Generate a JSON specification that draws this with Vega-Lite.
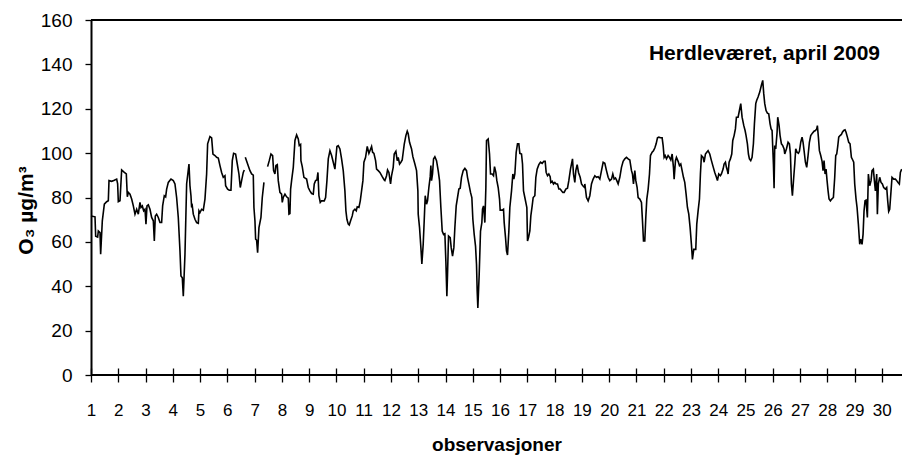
{
  "$schema": "https://vega.github.io/schema/vega-lite/v6.json",
  "autosize": "none",
  "padding": {"left": 91, "top": 20, "right": 0, "bottom": 80},
  "width": 811,
  "height": 355,
  "background": "white",
  "title": {"text": "Herdleværet, april 2009", "anchor": "end", "frame": "group", "orient": "top", "offset": -39, "dx": -22, "dy": 31, "fontSize": 21, "fontWeight": "bold", "font": "Liberation Sans", "color": "black", "baseline": "alphabetic"},
  "config": {"view": {"stroke": null}, "font": "Liberation Sans", "axis": {"labelFont": "Liberation Sans", "titleFont": "Liberation Sans", "labelColor": "black", "titleColor": "black", "grid": false}},
  "data": {"values": [
    {"t":1.000,"o3":71.7},{"t":1.147,"o3":71.3},{"t":1.171,"o3":62.6},{"t":1.244,"o3":62.2},{"t":1.269,"o3":64.9},{"t":1.330,"o3":64.2},{"t":1.354,"o3":54.4},{"t":1.415,"o3":69.5},{"t":1.489,"o3":77.0},{"t":1.574,"o3":78.1},{"t":1.635,"o3":78.5},{"t":1.660,"o3":87.6},{"t":1.758,"o3":87.3},{"t":1.855,"o3":87.8},{"t":1.941,"o3":88.3},{"t":1.977,"o3":86.1},{"t":2.002,"o3":78.1},{"t":2.063,"o3":78.5},{"t":2.124,"o3":92.4},{"t":2.222,"o3":91.3},{"t":2.295,"o3":90.6},{"t":2.332,"o3":80.3},{"t":2.368,"o3":82.3},{"t":2.430,"o3":81.5},{"t":2.491,"o3":79.3},{"t":2.552,"o3":76.2},{"t":2.613,"o3":72.5},{"t":2.674,"o3":74.7},{"t":2.735,"o3":72.5},{"t":2.796,"o3":77.8},{"t":2.833,"o3":75.5},{"t":2.882,"o3":76.2},{"t":2.931,"o3":74.0},{"t":2.980,"o3":74.7},{"t":3.016,"o3":68.0},{"t":3.053,"o3":76.2},{"t":3.102,"o3":76.7},{"t":3.163,"o3":74.7},{"t":3.224,"o3":71.0},{"t":3.285,"o3":69.5},{"t":3.322,"o3":60.4},{"t":3.358,"o3":71.7},{"t":3.407,"o3":72.5},{"t":3.468,"o3":71.0},{"t":3.529,"o3":68.7},{"t":3.590,"o3":68.7},{"t":3.627,"o3":76.2},{"t":3.688,"o3":80.8},{"t":3.737,"o3":80.3},{"t":3.774,"o3":83.8},{"t":3.835,"o3":86.8},{"t":3.933,"o3":88.3},{"t":4.018,"o3":87.6},{"t":4.079,"o3":86.1},{"t":4.140,"o3":80.0},{"t":4.201,"o3":71.0},{"t":4.263,"o3":55.9},{"t":4.299,"o3":44.6},{"t":4.348,"o3":43.8},{"t":4.385,"o3":35.5},
    {"t":4.446,"o3":54.4},{"t":4.507,"o3":86.1},{"t":4.593,"o3":95.1},{"t":4.629,"o3":85.3},{"t":4.666,"o3":80.8},{"t":4.690,"o3":75.5},{"t":4.715,"o3":76.2},{"t":4.751,"o3":72.5},{"t":4.813,"o3":70.2},{"t":4.874,"o3":68.7},{"t":4.935,"o3":68.4},{"t":4.959,"o3":74.0},{"t":4.996,"o3":73.2},{"t":5.057,"o3":74.7},{"t":5.118,"o3":74.3},{"t":5.179,"o3":79.3},{"t":5.240,"o3":90.6},{"t":5.277,"o3":104.2},{"t":5.362,"o3":107.5},{"t":5.424,"o3":106.9},{"t":5.472,"o3":99.6},{"t":5.546,"o3":98.9},{"t":5.607,"o3":98.1},{"t":5.668,"o3":97.8},{"t":5.729,"o3":94.4},{"t":5.790,"o3":91.3},{"t":5.851,"o3":89.1},{"t":5.912,"o3":89.8},{"t":5.937,"o3":85.3},{"t":6.010,"o3":83.8},{"t":6.071,"o3":83.3},{"t":6.132,"o3":83.3},{"t":6.181,"o3":96.6},{"t":6.230,"o3":99.9},{"t":6.303,"o3":99.6},{"t":6.364,"o3":95.1},{"t":6.425,"o3":90.6},{"t":6.474,"o3":84.5},{"t":6.523,"o3":87.6},{"t":6.584,"o3":91.3},{"t":6.621,"o3":92.4},{"t":6.640,"o3":null},{"t":6.658,"o3":98.1},{"t":6.829,"o3":92.1},{"t":6.890,"o3":90.6},{"t":6.951,"o3":90.1},{"t":6.975,"o3":75.5},{"t":7.012,"o3":69.5},{"t":7.037,"o3":61.2},{"t":7.073,"o3":60.8},{"t":7.110,"o3":55.1},{"t":7.159,"o3":66.4},{"t":7.232,"o3":71.0},{"t":7.281,"o3":80.0},{"t":7.342,"o3":86.8},{"t":7.410,"o3":null},{"t":7.476,"o3":93.9},{"t":7.537,"o3":96.6},{"t":7.599,"o3":99.6},{"t":7.660,"o3":98.9},{"t":7.696,"o3":92.1},{"t":7.745,"o3":90.6},{"t":7.782,"o3":94.4},{"t":7.831,"o3":94.8},{"t":7.867,"o3":87.6},{"t":7.928,"o3":82.3},{"t":7.989,"o3":81.5},{"t":8.014,"o3":77.8},{"t":8.050,"o3":80.0},
    {"t":8.112,"o3":81.5},{"t":8.173,"o3":80.3},{"t":8.234,"o3":79.7},{"t":8.259,"o3":72.5},{"t":8.295,"o3":72.8},{"t":8.320,"o3":83.8},{"t":8.356,"o3":87.6},{"t":8.418,"o3":93.6},{"t":8.479,"o3":105.7},{"t":8.540,"o3":108.2},{"t":8.601,"o3":106.4},{"t":8.637,"o3":103.4},{"t":8.686,"o3":103.9},{"t":8.698,"o3":96.6},{"t":8.747,"o3":93.9},{"t":8.808,"o3":89.1},{"t":8.906,"o3":88.3},{"t":8.967,"o3":84.5},{"t":9.028,"o3":83.0},{"t":9.090,"o3":81.8},{"t":9.151,"o3":81.5},{"t":9.187,"o3":86.1},{"t":9.236,"o3":87.6},{"t":9.285,"o3":87.9},{"t":9.322,"o3":91.3},{"t":9.358,"o3":80.8},{"t":9.407,"o3":77.8},{"t":9.456,"o3":78.5},{"t":9.554,"o3":78.5},{"t":9.603,"o3":80.0},{"t":9.652,"o3":87.6},{"t":9.701,"o3":97.4},{"t":9.762,"o3":101.1},{"t":9.823,"o3":98.9},{"t":9.884,"o3":95.9},{"t":9.945,"o3":92.8},{"t":9.982,"o3":98.1},{"t":10.018,"o3":103.0},{"t":10.067,"o3":103.4},{"t":10.128,"o3":101.9},{"t":10.189,"o3":97.4},{"t":10.250,"o3":92.1},{"t":10.311,"o3":83.0},{"t":10.348,"o3":74.0},{"t":10.385,"o3":70.2},{"t":10.434,"o3":68.0},{"t":10.470,"o3":67.6},{"t":10.519,"o3":69.5},{"t":10.580,"o3":71.7},{"t":10.617,"o3":74.0},{"t":10.678,"o3":74.7},{"t":10.727,"o3":74.0},{"t":10.763,"o3":75.8},{"t":10.825,"o3":75.5},{"t":10.874,"o3":78.5},{"t":10.922,"o3":83.0},{"t":10.971,"o3":87.6},{"t":11.008,"o3":95.9},{"t":11.069,"o3":98.1},{"t":11.130,"o3":103.0},{"t":11.191,"o3":99.9},{"t":11.240,"o3":101.4},{"t":11.289,"o3":103.0},{"t":11.326,"o3":100.4},{"t":11.375,"o3":99.9},{"t":11.436,"o3":96.6},{"t":11.472,"o3":92.8},{"t":11.533,"o3":92.1},{"t":11.594,"o3":91.3},{"t":11.680,"o3":89.4},{"t":11.753,"o3":87.9},
    {"t":11.777,"o3":87.6},{"t":11.838,"o3":89.8},{"t":11.875,"o3":92.4},{"t":11.924,"o3":91.3},{"t":11.985,"o3":86.1},{"t":12.021,"o3":89.8},{"t":12.082,"o3":93.6},{"t":12.119,"o3":99.6},{"t":12.180,"o3":100.8},{"t":12.229,"o3":96.6},{"t":12.266,"o3":98.1},{"t":12.315,"o3":95.1},{"t":12.364,"o3":95.9},{"t":12.412,"o3":96.9},{"t":12.449,"o3":100.4},{"t":12.486,"o3":103.9},{"t":12.547,"o3":107.9},{"t":12.596,"o3":109.9},{"t":12.632,"o3":108.7},{"t":12.681,"o3":104.9},{"t":12.755,"o3":101.9},{"t":12.803,"o3":98.4},{"t":12.877,"o3":95.1},{"t":12.938,"o3":92.1},{"t":12.987,"o3":83.0},{"t":12.999,"o3":72.5},{"t":13.048,"o3":66.4},{"t":13.097,"o3":57.4},{"t":13.133,"o3":50.1},{"t":13.182,"o3":58.9},{"t":13.219,"o3":69.5},{"t":13.256,"o3":80.8},{"t":13.304,"o3":77.0},{"t":13.341,"o3":78.5},{"t":13.390,"o3":84.5},{"t":13.439,"o3":89.4},{"t":13.463,"o3":94.4},{"t":13.488,"o3":87.6},{"t":13.524,"o3":90.6},{"t":13.561,"o3":97.4},{"t":13.610,"o3":98.4},{"t":13.671,"o3":96.6},{"t":13.732,"o3":92.1},{"t":13.781,"o3":87.6},{"t":13.830,"o3":75.5},{"t":13.879,"o3":64.9},{"t":13.928,"o3":63.4},{"t":13.977,"o3":63.7},{"t":14.013,"o3":51.3},{"t":14.050,"o3":35.5},{"t":14.074,"o3":45.3},{"t":14.111,"o3":62.6},{"t":14.172,"o3":61.9},{"t":14.209,"o3":57.4},{"t":14.258,"o3":53.6},{"t":14.306,"o3":57.4},{"t":14.343,"o3":66.4},{"t":14.392,"o3":76.2},{"t":14.441,"o3":80.0},{"t":14.490,"o3":83.8},{"t":14.539,"o3":84.2},{"t":14.587,"o3":89.1},{"t":14.649,"o3":92.1},{"t":14.710,"o3":93.1},{"t":14.771,"o3":92.1},{"t":14.807,"o3":89.1},{"t":14.856,"o3":86.1},{"t":14.917,"o3":82.3},{"t":14.966,"o3":80.0},{"t":15.003,"o3":70.2},{"t":15.052,"o3":63.4},{"t":15.101,"o3":58.1},{"t":15.137,"o3":49.8},{"t":15.162,"o3":37.8},{"t":15.186,"o3":30.2},{"t":15.235,"o3":45.3},{"t":15.284,"o3":64.9},{"t":15.333,"o3":68.7},{"t":15.357,"o3":74.7},{"t":15.394,"o3":76.2},
    {"t":15.443,"o3":68.7},{"t":15.480,"o3":84.5},{"t":15.504,"o3":105.7},{"t":15.565,"o3":106.4},{"t":15.614,"o3":99.6},{"t":15.651,"o3":90.6},{"t":15.712,"o3":90.6},{"t":15.761,"o3":89.8},{"t":15.797,"o3":93.9},{"t":15.846,"o3":91.3},{"t":15.883,"o3":87.6},{"t":15.932,"o3":84.5},{"t":15.981,"o3":79.3},{"t":16.005,"o3":74.3},{"t":16.078,"o3":74.3},{"t":16.127,"o3":74.7},{"t":16.152,"o3":68.7},{"t":16.201,"o3":61.9},{"t":16.237,"o3":55.9},{"t":16.274,"o3":54.1},{"t":16.323,"o3":64.9},{"t":16.359,"o3":75.5},{"t":16.421,"o3":83.0},{"t":16.469,"o3":90.6},{"t":16.506,"o3":88.3},{"t":16.543,"o3":90.6},{"t":16.592,"o3":100.4},{"t":16.640,"o3":104.2},{"t":16.689,"o3":104.2},{"t":16.726,"o3":99.9},{"t":16.787,"o3":99.6},{"t":16.824,"o3":95.1},{"t":16.860,"o3":83.0},{"t":16.909,"o3":80.0},{"t":16.958,"o3":77.0},{"t":16.983,"o3":75.5},{"t":17.007,"o3":60.4},{"t":17.044,"o3":61.9},{"t":17.093,"o3":64.9},{"t":17.129,"o3":71.7},{"t":17.178,"o3":76.2},{"t":17.215,"o3":80.0},{"t":17.276,"o3":80.8},{"t":17.313,"o3":89.1},{"t":17.361,"o3":92.8},{"t":17.422,"o3":94.8},{"t":17.484,"o3":95.9},{"t":17.545,"o3":95.4},{"t":17.606,"o3":96.3},{"t":17.655,"o3":96.3},{"t":17.691,"o3":91.3},{"t":17.740,"o3":89.8},{"t":17.789,"o3":90.6},{"t":17.838,"o3":89.4},{"t":17.862,"o3":86.8},{"t":17.911,"o3":87.3},{"t":17.960,"o3":86.1},{"t":18.009,"o3":86.8},{"t":18.058,"o3":86.1},{"t":18.107,"o3":86.1},{"t":18.156,"o3":83.8},{"t":18.205,"o3":83.8},{"t":18.253,"o3":83.0},{"t":18.302,"o3":82.3},{"t":18.351,"o3":82.3},{"t":18.412,"o3":83.8},{"t":18.473,"o3":84.2},{"t":18.522,"o3":87.6},{"t":18.583,"o3":92.8},{"t":18.657,"o3":97.4},{"t":18.693,"o3":90.6},{"t":18.742,"o3":86.8},{"t":18.779,"o3":92.1},{"t":18.828,"o3":94.8},{"t":18.877,"o3":91.3},{"t":18.938,"o3":89.1},{"t":18.987,"o3":86.1},{"t":19.036,"o3":85.3},{"t":19.097,"o3":84.5},
    {"t":19.109,"o3":86.1},{"t":19.170,"o3":80.0},{"t":19.231,"o3":78.5},{"t":19.292,"o3":80.8},{"t":19.353,"o3":86.1},{"t":19.414,"o3":88.3},{"t":19.476,"o3":89.8},{"t":19.537,"o3":89.1},{"t":19.598,"o3":89.4},{"t":19.659,"o3":88.3},{"t":19.720,"o3":92.1},{"t":19.781,"o3":95.9},{"t":19.842,"o3":95.4},{"t":19.903,"o3":92.1},{"t":19.964,"o3":89.1},{"t":20.025,"o3":87.6},{"t":20.087,"o3":88.3},{"t":20.135,"o3":90.6},{"t":20.184,"o3":88.3},{"t":20.233,"o3":88.8},{"t":20.282,"o3":87.6},{"t":20.331,"o3":86.1},{"t":20.392,"o3":89.1},{"t":20.453,"o3":93.6},{"t":20.514,"o3":96.3},{"t":20.575,"o3":97.4},{"t":20.636,"o3":98.1},{"t":20.697,"o3":97.4},{"t":20.759,"o3":96.9},{"t":20.820,"o3":92.1},{"t":20.856,"o3":90.6},{"t":20.893,"o3":86.1},{"t":20.942,"o3":92.1},{"t":20.979,"o3":87.6},{"t":21.027,"o3":84.5},{"t":21.064,"o3":80.0},{"t":21.125,"o3":79.3},{"t":21.186,"o3":77.8},{"t":21.223,"o3":69.5},{"t":21.260,"o3":60.4},{"t":21.308,"o3":60.4},{"t":21.345,"o3":71.0},{"t":21.382,"o3":79.3},{"t":21.431,"o3":83.8},{"t":21.480,"o3":90.6},{"t":21.516,"o3":98.9},{"t":21.577,"o3":100.4},{"t":21.626,"o3":101.1},{"t":21.675,"o3":102.3},{"t":21.724,"o3":104.2},{"t":21.773,"o3":106.9},{"t":21.822,"o3":107.2},{"t":21.883,"o3":106.9},{"t":21.944,"o3":106.9},{"t":21.981,"o3":103.4},{"t":22.017,"o3":98.1},{"t":22.054,"o3":98.9},{"t":22.103,"o3":97.4},{"t":22.164,"o3":98.9},{"t":22.213,"o3":98.1},{"t":22.262,"o3":96.9},{"t":22.311,"o3":99.6},{"t":22.359,"o3":93.6},{"t":22.384,"o3":88.3},{"t":22.433,"o3":96.6},{"t":22.469,"o3":98.1},{"t":22.530,"o3":96.3},{"t":22.579,"o3":94.4},{"t":22.628,"o3":95.1},{"t":22.677,"o3":92.1},{"t":22.726,"o3":89.1},
    {"t":22.774,"o3":86.8},{"t":22.823,"o3":81.5},{"t":22.872,"o3":75.5},{"t":22.921,"o3":72.5},{"t":22.970,"o3":66.4},{"t":23.018,"o3":58.9},{"t":23.055,"o3":52.1},{"t":23.104,"o3":56.6},{"t":23.177,"o3":56.6},{"t":23.214,"o3":68.0},{"t":23.263,"o3":74.0},{"t":23.312,"o3":79.3},{"t":23.348,"o3":90.6},{"t":23.385,"o3":98.9},{"t":23.446,"o3":98.1},{"t":23.483,"o3":95.9},{"t":23.532,"o3":99.6},{"t":23.581,"o3":100.4},{"t":23.629,"o3":101.1},{"t":23.690,"o3":99.6},{"t":23.752,"o3":96.6},{"t":23.813,"o3":93.9},{"t":23.874,"o3":91.3},{"t":23.935,"o3":89.1},{"t":23.972,"o3":87.6},{"t":24.020,"o3":90.6},{"t":24.081,"o3":89.8},{"t":24.118,"o3":90.6},{"t":24.179,"o3":92.8},{"t":24.216,"o3":95.1},{"t":24.265,"o3":95.9},{"t":24.301,"o3":93.6},{"t":24.338,"o3":92.1},{"t":24.363,"o3":90.6},{"t":24.399,"o3":95.9},{"t":24.448,"o3":97.4},{"t":24.497,"o3":99.6},{"t":24.534,"o3":105.7},{"t":24.583,"o3":107.9},{"t":24.631,"o3":110.9},{"t":24.668,"o3":116.2},{"t":24.729,"o3":116.2},{"t":24.778,"o3":119.2},{"t":24.827,"o3":122.3},{"t":24.876,"o3":116.2},{"t":24.937,"o3":112.5},{"t":24.986,"o3":110.2},{"t":25.022,"o3":107.9},{"t":25.071,"o3":104.2},{"t":25.108,"o3":99.6},{"t":25.145,"o3":97.4},{"t":25.193,"o3":96.6},{"t":25.242,"o3":98.1},{"t":25.291,"o3":104.2},{"t":25.328,"o3":113.2},{"t":25.377,"o3":122.3},{"t":25.413,"o3":123.8},{"t":25.462,"o3":125.3},{"t":25.523,"o3":127.5},{"t":25.584,"o3":130.6},{"t":25.633,"o3":132.8},{"t":25.670,"o3":126.8},{"t":25.707,"o3":122.3},{"t":25.755,"o3":119.2},{"t":25.804,"o3":118.0},{"t":25.853,"o3":117.7},{"t":25.902,"o3":113.2},{"t":25.939,"o3":110.9},{"t":25.976,"o3":110.2},{"t":26.000,"o3":102.6},{"t":26.025,"o3":95.1},{"t":26.049,"o3":84.2},{"t":26.073,"o3":103.4},{"t":26.110,"o3":101.9},{"t":26.159,"o3":109.4},{"t":26.183,"o3":116.2},{"t":26.232,"o3":112.5},{"t":26.269,"o3":107.9},{"t":26.318,"o3":104.2},{"t":26.367,"o3":103.4},{"t":26.416,"o3":101.9},
    {"t":26.440,"o3":99.6},{"t":26.501,"o3":101.9},{"t":26.562,"o3":104.9},{"t":26.611,"o3":104.2},{"t":26.648,"o3":99.6},{"t":26.684,"o3":86.1},{"t":26.721,"o3":80.8},{"t":26.770,"o3":89.1},{"t":26.807,"o3":95.1},{"t":26.843,"o3":101.9},{"t":26.892,"o3":100.4},{"t":26.941,"o3":99.9},{"t":26.978,"o3":100.8},{"t":27.027,"o3":104.9},{"t":27.075,"o3":107.2},{"t":27.112,"o3":104.9},{"t":27.149,"o3":101.1},{"t":27.198,"o3":95.9},{"t":27.246,"o3":93.6},{"t":27.295,"o3":98.9},{"t":27.344,"o3":104.9},{"t":27.393,"o3":107.9},{"t":27.454,"o3":109.0},{"t":27.515,"o3":109.9},{"t":27.564,"o3":110.2},{"t":27.613,"o3":110.9},{"t":27.637,"o3":112.4},{"t":27.674,"o3":107.2},{"t":27.711,"o3":101.1},{"t":27.760,"o3":98.9},{"t":27.809,"o3":96.3},{"t":27.845,"o3":92.1},{"t":27.882,"o3":96.6},{"t":27.919,"o3":90.6},{"t":27.955,"o3":92.8},{"t":27.992,"o3":87.6},{"t":28.029,"o3":83.0},{"t":28.065,"o3":79.3},{"t":28.114,"o3":78.5},{"t":28.163,"o3":79.3},{"t":28.224,"o3":80.0},{"t":28.273,"o3":89.1},{"t":28.310,"o3":98.9},{"t":28.346,"o3":99.6},{"t":28.383,"o3":103.0},{"t":28.420,"o3":107.2},{"t":28.468,"o3":107.9},{"t":28.517,"o3":108.4},{"t":28.554,"o3":109.4},{"t":28.603,"o3":110.2},{"t":28.652,"o3":110.5},{"t":28.688,"o3":109.4},{"t":28.737,"o3":107.2},{"t":28.786,"o3":104.9},{"t":28.835,"o3":104.2},{"t":28.884,"o3":98.1},{"t":28.933,"o3":96.9},{"t":28.969,"o3":95.9},{"t":29.006,"o3":86.1},{"t":29.055,"o3":79.3},{"t":29.092,"o3":75.5},{"t":29.140,"o3":68.0},{"t":29.189,"o3":58.9},{"t":29.226,"o3":61.2},{"t":29.275,"o3":58.9},{"t":29.312,"o3":63.4},{"t":29.348,"o3":74.0},{"t":29.385,"o3":78.5},{"t":29.422,"o3":78.8},{"t":29.470,"o3":71.0},{"t":29.507,"o3":90.6},{"t":29.556,"o3":85.3},{"t":29.605,"o3":87.6},{"t":29.641,"o3":92.1},{"t":29.690,"o3":92.8},{"t":29.727,"o3":87.6},{"t":29.764,"o3":83.0},{"t":29.812,"o3":90.6},{"t":29.837,"o3":72.5},{"t":29.873,"o3":86.1},{"t":29.922,"o3":89.1},{"t":29.971,"o3":86.8},{"t":30.020,"o3":86.1},{"t":30.069,"o3":84.5},{"t":30.130,"o3":83.8},{"t":30.179,"o3":84.5},{"t":30.216,"o3":78.5},{"t":30.252,"o3":73.7},{"t":30.289,"o3":74.7},{"t":30.338,"o3":83.0},{"t":30.374,"o3":89.1},{"t":30.436,"o3":88.3},{"t":30.497,"o3":88.3},{"t":30.546,"o3":87.6},{"t":30.594,"o3":86.8},{"t":30.643,"o3":86.1},{"t":30.680,"o3":91.3},{"t":30.729,"o3":92.8}
  ]},
  "layer": [
    {
      "mark": {"type": "rule", "color": "black", "strokeWidth": 1},
      "encoding": {"y": {"datum": 160}}
    },
    {
      "mark": {"type": "line", "color": "black", "strokeWidth": 1.6, "invalid": "break-paths-show-domains"},
      "encoding": {
        "x": {"field": "t", "type": "quantitative", "scale": {"domain": [1, 30.74], "nice": false, "zero": false},
          "axis": {"values": [1,2,3,4,5,6,7,8,9,10,11,12,13,14,15,16,17,18,19,20,21,22,23,24,25,26,27,28,29,30], "format": "d", "domain": false, "offset": -7, "tickSize": 14, "tickColor": "black", "tickWidth": 1.3, "labelFontSize": 17, "labelPadding": 20, "labelFlush": false, "labelOverlap": false, "title": "observasjoner", "titleFontSize": 19, "titleFontWeight": "bold", "titleBaseline": "alphabetic", "titleY": 82}},
        "y": {"field": "o3", "type": "quantitative", "scale": {"domain": [0, 160], "nice": false},
          "axis": {"values": [0,20,40,60,80,100,120,140,160], "domainColor": "black", "domainWidth": 2, "tickColor": "black", "tickSize": 6, "tickWidth": 1.3, "labelFontSize": 19, "labelPadding": 13, "title": "O₃ µg/m³", "titleFontSize": 21, "titleFontWeight": "bold", "titleBaseline": "alphabetic", "titleAngle": -90, "titleX": -59, "titleY": 190}}
      }
    },
    {
      "mark": {"type": "rule", "color": "black", "strokeWidth": 2},
      "encoding": {"y": {"datum": 0}}
    }
  ]
}
